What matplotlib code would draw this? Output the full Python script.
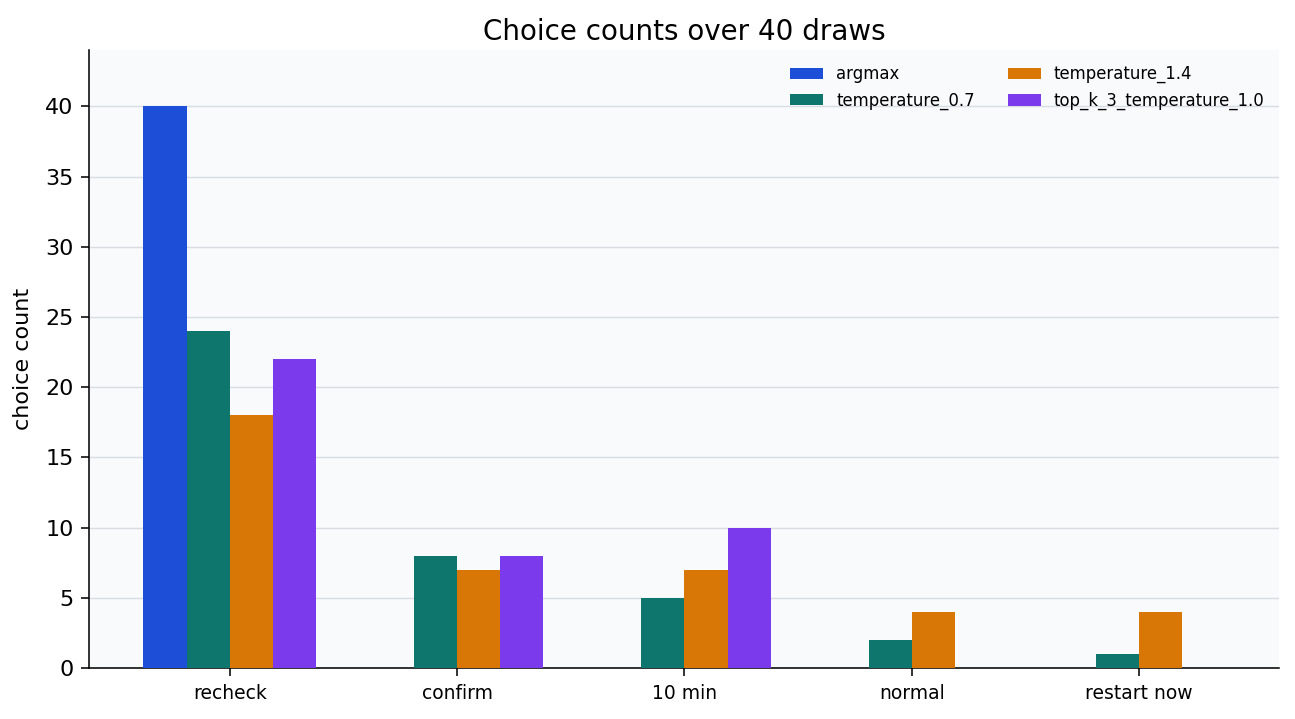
import numpy as np
import matplotlib
matplotlib.use("Agg")
import matplotlib.pyplot as plt

choices = ["recheck", "confirm", "10 min", "normal", "restart now"]
series = ["argmax", "temperature_0.7", "temperature_1.4", "top_k_3_temperature_1.0"]
argmax = [40, 0, 0, 0, 0]
temp_07 = [24, 8, 5, 2, 1]
temp_14 = [18, 7, 7, 4, 4]
top_k = [22, 8, 10, 0, 0]
colors = ["#1d4ed8", "#0f766e", "#d97706", "#7c3aed"]

fig, ax = plt.subplots(figsize=(10.36, 5.752), dpi=125)
ax.set_facecolor("#f8fafc")

x = np.arange(len(choices))
width = 0.19
for i, (name, vals) in enumerate(zip(series, [argmax, temp_07, temp_14, top_k])):
    ax.bar(x + (i - 1.5) * width, vals, width, label=name, color=colors[i], zorder=3)

ax.set_xticks(x)
ax.set_xticklabels(choices, fontsize=10.8)
ax.tick_params(axis="y", labelsize=12.8)
ax.tick_params(length=4.5, pad=4.5, width=0.9)
ax.set_ylim(0, 44)
ax.set_ylabel("choice count", fontsize=12.8, labelpad=7)
ax.set_title("Choice counts over 40 draws", fontsize=16)
ax.grid(axis="y", color="#d9dce1", linewidth=0.8, zorder=0)
ax.spines["top"].set_visible(False)
ax.spines["right"].set_visible(False)
for s in ("left", "bottom"):
    ax.spines[s].set_linewidth(0.9)
ax.legend(ncol=2, frameon=False, fontsize=9.5, loc="upper right")

fig.subplots_adjust(left=0.069, right=0.988, top=0.93, bottom=0.071)
fig.savefig("out.png")
